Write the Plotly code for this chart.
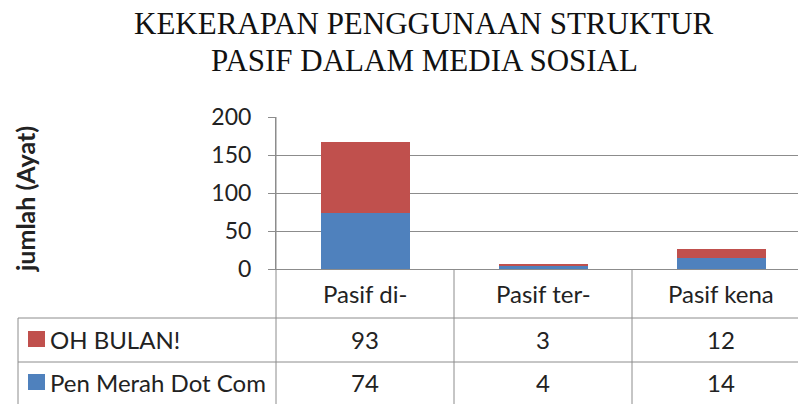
import plotly.graph_objects as go

categories = ["Pasif di-", "Pasif ter-", "Pasif kena"]
series_names = ["OH BULAN!", "Pen Merah Dot Com"]
oh_bulan = [93, 3, 12]
pen_merah = [74, 4, 14]
y_ticks = [0, 50, 100, 150, 200]
title_lines = ["KEKERAPAN PENGGUNAAN STRUKTUR", "PASIF DALAM MEDIA SOSIAL"]

BLUE = "#4F81BD"
RED = "#C0504D"
GRID = "#8C8C8C"
TXT = "#222222"
FONT = "Lato"

W, H = 798, 404
L, R, T, B = 276, 0, 117, 135
PW = W - L - R
PH = H - T - B
CAT_W = 178.0


def py(p):
    return (H - B - p) / PH


def px(p):
    return (p - L) / PW


fig = go.Figure()
fig.add_trace(go.Bar(x=list(range(len(categories))), y=pen_merah, name=series_names[1],
                     marker=dict(color=BLUE, line=dict(width=0)), width=0.5))
fig.add_trace(go.Bar(x=list(range(len(categories))), y=oh_bulan, name=series_names[0],
                     marker=dict(color=RED, line=dict(width=0)), width=0.5))

shapes = []
annotations = []
# y axis line extended through table
shapes.append(dict(type="line", xref="paper", yref="paper", x0=0, x1=0, y0=1, y1=py(H + 2),
                   line=dict(color=GRID, width=1)))
# column separators
for i in range(len(categories)):
    shapes.append(dict(type="line", xref="x", yref="paper", x0=i + 0.5, x1=i + 0.5,
                       y0=0, y1=py(H + 2), line=dict(color=GRID, width=1)))
# horizontal rows
for yy in [318, 362]:
    shapes.append(dict(type="line", xref="paper", yref="paper", x0=px(18), x1=1.02,
                       y0=py(yy), y1=py(yy), line=dict(color=GRID, width=1)))
shapes.append(dict(type="line", xref="paper", yref="paper", x0=px(18), x1=px(18),
                   y0=py(318), y1=py(H + 2), line=dict(color=GRID, width=1)))

# category labels
for i, c in enumerate(categories):
    annotations.append(dict(text=c, xref="x", yref="paper", x=i, y=py(293), showarrow=False,
                            font=dict(family=FONT, size=24, color=TXT), xanchor="center", yanchor="middle"))
rows = [(series_names[0], oh_bulan, RED, 339), (series_names[1], pen_merah, BLUE, 382)]
for name, vals, col, yc in rows:
    shapes.append(dict(type="rect", xref="paper", yref="paper", x0=px(28), x1=px(45),
                       y0=py(yc - 8), y1=py(yc + 8), fillcolor=col, line=dict(width=0)))
    annotations.append(dict(text=name, xref="paper", yref="paper", x=px(48), y=py(yc), showarrow=False,
                            font=dict(family=FONT, size=24, color=TXT), xanchor="left", yanchor="middle"))
    for i, v in enumerate(vals):
        annotations.append(dict(text=str(v), xref="x", yref="paper", x=i, y=py(yc), showarrow=False,
                                font=dict(family=FONT, size=24, color=TXT), xanchor="center", yanchor="middle"))

annotations.append(dict(text="<b>jumlah (Ayat)</b>", xref="paper", yref="paper", x=px(25), y=py(199),
                        textangle=-90, showarrow=False, font=dict(family=FONT, size=25, color=TXT),
                        xanchor="center", yanchor="middle"))

for line_text, yc in zip(title_lines, [23, 61]):
    annotations.append(dict(text=line_text, xref="paper", yref="paper", x=px(424), y=py(yc),
                            showarrow=False, xanchor="center", yanchor="middle",
                            font=dict(family="Liberation Serif", size=31, color="#111111")))

fig.update_layout(
    width=W, height=H,
    margin=dict(l=L, r=R, t=T, b=B, pad=0),
    paper_bgcolor="white", plot_bgcolor="white",
    barmode="stack", showlegend=False,
    xaxis=dict(range=[-0.5, -0.5 + PW / CAT_W], showticklabels=False, showgrid=False,
               zeroline=False, showline=True, linecolor=GRID, ticks=""),
    yaxis=dict(range=[0, 200], tickvals=y_ticks, showgrid=True, gridcolor=GRID, gridwidth=1,
               zeroline=False, showline=True, linecolor=GRID, ticks="outside", ticklen=7,
               tickcolor=GRID, ticklabelstandoff=12,
               tickfont=dict(family=FONT, size=23, color=TXT)),
    shapes=shapes, annotations=annotations,
)

fig.write_html("out.html", config={"displayModeBar": False},
               post_script="document.body.style.margin='0';document.body.style.overflow='hidden';")
